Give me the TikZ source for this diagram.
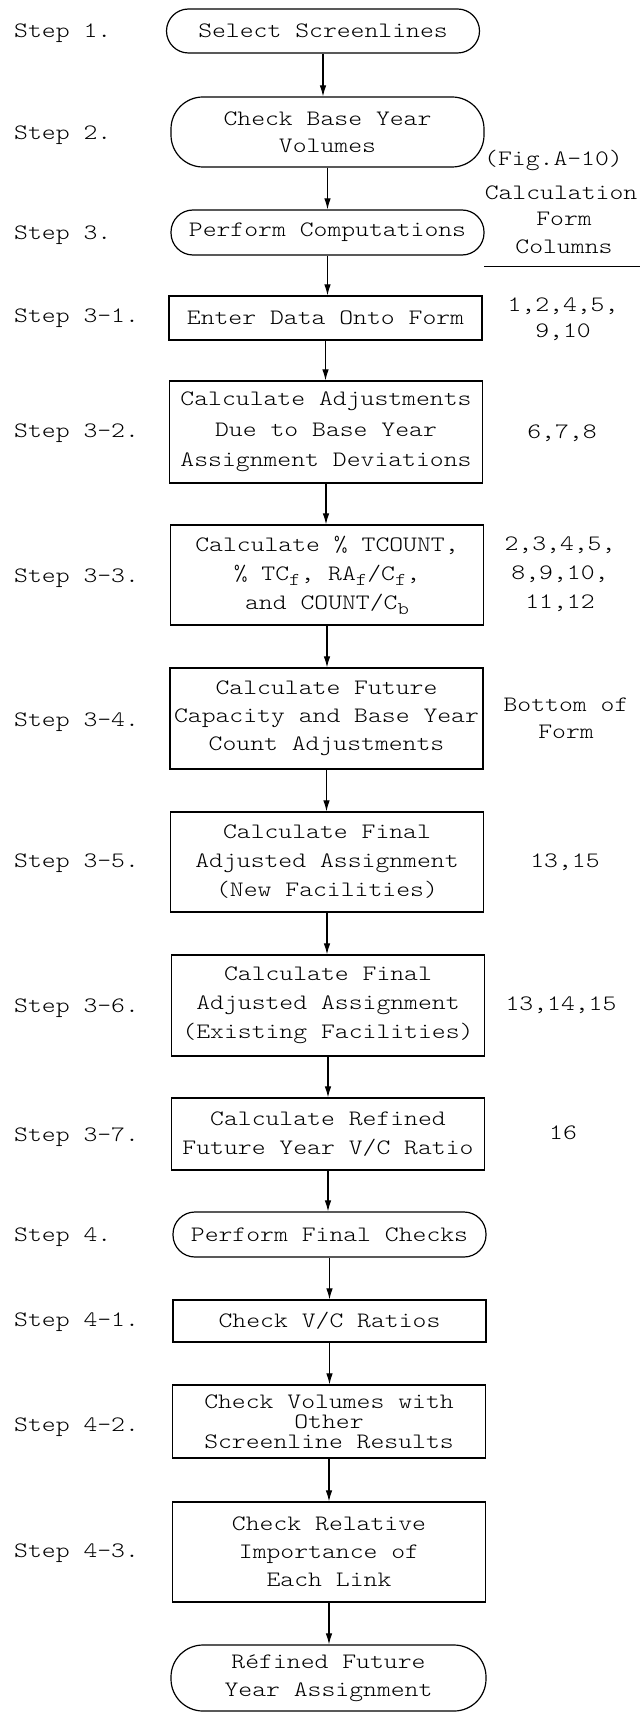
\documentclass[tikz,border=0pt]{standalone}
\usepackage{fontspec}
\newfontfamily\tw{lmmonolt10-regular.otf}[FakeStretch=1.2]
\usetikzlibrary{arrows.meta}
\newcommand\sbt[1]{\raisebox{-0.55ex}{\fontsize{18}{18}\selectfont #1}}
\begin{document}
\begin{tikzpicture}[x=1pt,y=-1pt,
  every node/.style={font={\tw\fontsize{22}{29}\selectfont}, inner sep=0pt},
  box/.style={draw, line width=1.2pt, align=center, minimum width=313pt},
  lbl/.style={anchor=west},
  col/.style={align=center},
  arr/.style={line width=1.1pt, -{Latex[length=11pt,width=6.5pt]}}]
\useasboundingbox (0,0) rectangle (640,1712);

% main boxes
\node[box, rounded corners=22pt, minimum height=44pt] (sel) at (323,31) {Select Screenlines};
\node[box, rounded corners=32pt, minimum height=70pt, font={\tw\fontsize{22}{27}\selectfont}] (cbase) at (327.5,132) {Check Base Year\\Volumes};
\node[box, rounded corners=22pt, minimum height=45pt] (perf) at (327.5,232.5) {Perform Computations};
\node[box, minimum height=44pt] (enter) at (325.5,318) {Enter Data Onto Form};
\node[box, minimum height=102pt, font={\tw\fontsize{22}{30.5}\selectfont}] (adj) at (326,432) {Calculate Adjustments\\Due to Base Year\\Assignment Deviations};
\node[box, minimum height=100pt] (tc) at (327,575) {Calculate \% TCOUNT,\\\% TC\sbt{f}, RA\sbt{f}/C\sbt{f},\\and COUNT/C\sbt{b}};
\node[box, minimum height=101pt, font={\tw\fontsize{22}{28}\selectfont}] (fut) at (326.5,718.5) {Calculate Future\\Capacity and Base Year\\Count Adjustments};
\node[box, minimum height=100pt] (new) at (327,862) {Calculate Final\\Adjusted Assignment\\(New Facilities)};
\node[box, minimum height=101pt] (exist) at (328,1005.5) {Calculate Final\\Adjusted Assignment\\(Existing Facilities)};
\node[box, minimum height=72pt] (vc) at (328,1134) {Calculate Refined\\Future Year V/C Ratio};
\node[box, rounded corners=22pt, minimum height=45pt] (pfc) at (329.5,1234.5) {Perform Final Checks};
\node[box, minimum height=42pt] (chvc) at (329.5,1321) {Check V/C Ratios};
\node[box, minimum height=73pt, font={\tw\fontsize{22}{20}\selectfont}] (chvol) at (329,1421.5) {Check Volumes with\\Other\\Screenline Results};
\node[box, minimum height=100pt, font={\tw\fontsize{22}{28}\selectfont}] (rel) at (329,1552) {Check Relative\\Importance of\\Each Link};
\node[box, rounded corners=32pt, minimum height=66pt, minimum width=315pt, font={\tw\fontsize{22}{28}\selectfont}] (fin) at (328.5,1678) {Réfined Future\\Year Assignment};

% connectors
\foreach \a/\b in {sel/cbase, cbase/perf, perf/enter, enter/adj, adj/tc, tc/fut, fut/new, new/exist, exist/vc, vc/pfc, pfc/chvc, chvc/chvol, chvol/rel, rel/fin}
  \draw[arr] (\a.south) -- (\a.south |- \b.north);

% step labels
\node[lbl] (s1) at (14,33) {Step 1.};
\node[lbl] (s2) at (14,135) {Step 2.};
\node[lbl] (s3) at (14,235) {Step 3.};
\node[lbl] (s31) at (14,318) {Step 3-1.};
\node[lbl] (s32) at (14,433) {Step 3-2.};
\node[lbl] (s33) at (14,578) {Step 3-3.};
\node[lbl] (s34) at (14,722) {Step 3-4.};
\node[lbl] (s35) at (14,863) {Step 3-5.};
\node[lbl] (s36) at (14,1008) {Step 3-6.};
\node[lbl] (s37) at (14,1137) {Step 3-7.};
\node[lbl] (s4) at (14,1237) {Step 4.};
\node[lbl] (s41) at (14,1322) {Step 4-1.};
\node[lbl] (s42) at (14,1427) {Step 4-2.};
\node[lbl] (s43) at (14,1553) {Step 4-3.};

% right column
\node[anchor=west] (fig) at (484,160) {(Fig.A-10)};
\node (calc) at (561,193) {Calculation};
\node (form) at (564,219) {Form};
\node (cols) at (564,247) {Columns};
\coordinate (hl1) at (484,266);
\coordinate (hl2) at (640,266);
\draw[line width=1pt] (hl1) -- (hl2);
\node[col, font={\tw\fontsize{22}{26}\selectfont}] (c1) at (563,319) {1,2,4,5,\\9,10};
\node (c2) at (562,433) {6,7,8};
\node[col] (c3) at (560,574) {2,3,4,5,\\8,9,10,\\11,12};
\node[col, font={\tw\fontsize{22}{27}\selectfont}] (c4) at (566,718) {Bottom of\\Form};
\node (c5) at (565,862) {13,15};
\node (c6) at (561,1005) {13,14,15};
\node (c7) at (563,1133) {16};
\end{tikzpicture}
\end{document}
